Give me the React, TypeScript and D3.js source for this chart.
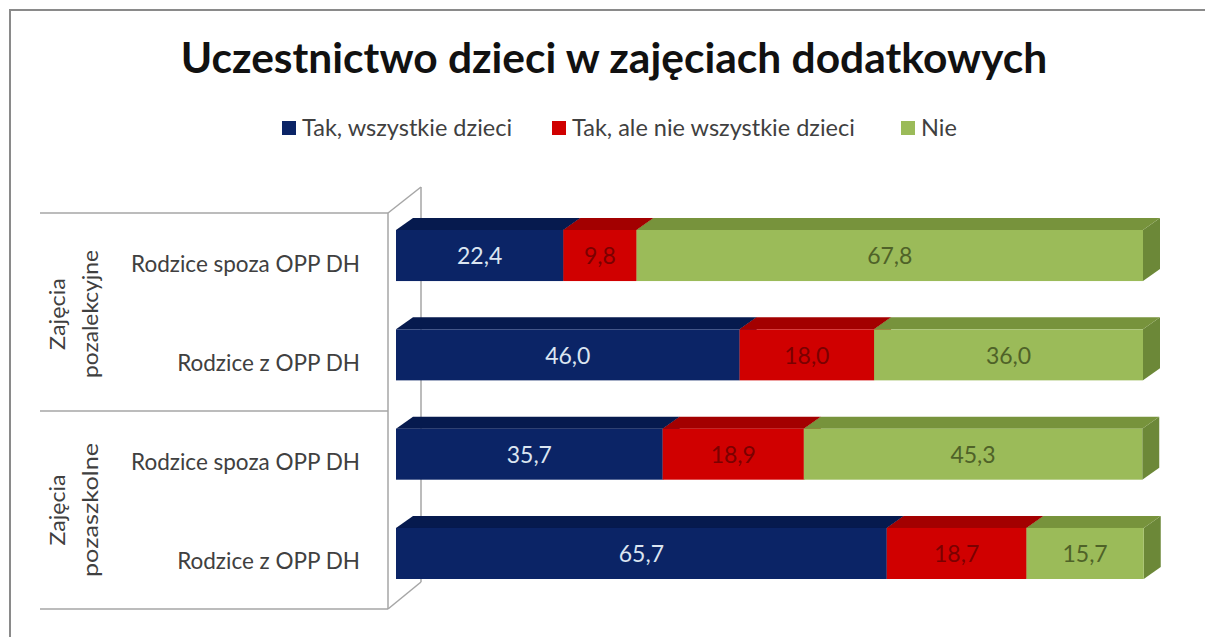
import React from "react";
import * as d3 from "d3";

// Values (percent)
const rows = [
  "Rodzice spoza OPP DH",
  "Rodzice z OPP DH",
  "Rodzice spoza OPP DH",
  "Rodzice z OPP DH",
];
const groups = [
  ["Zajęcia", "pozalekcyjne"],
  ["Zajęcia", "pozaszkolne"],
];
const seriesNames = ["Tak, wszystkie dzieci", "Tak, ale nie wszystkie dzieci", "Nie"];
const takWszystkie = [22.4, 46.0, 35.7, 65.7];
const takNieWszystkie = [9.8, 18.0, 18.9, 18.7];
const nie = [67.8, 36.0, 45.3, 15.7];

const front = ["#0b2466", "#d00000", "#9bbb59"];
const top = ["#061a4e", "#a30000", "#77933c"];
const side = ["#061a4e", "#a30000", "#6c8838"];
const labelColor = ["#dbe5f1", "#7a0000", "#4f6228"];

const FONT = "Lato, 'Open Sans', sans-serif";

export default function App() {
  const W = 1205;
  const H = 637;
  const dx = 17; // bar depth offsets
  const dy = 12;

  const x = d3.scaleLinear().domain([0, 100]).range([396, 1143]);
  const y = d3
    .scaleBand<number>()
    .domain(d3.range(rows.length))
    .range([230, 579])
    .paddingInner(0.486)
    .paddingOuter(0);

  const table = rows.map((r, i) => ({
    row: i,
    a: takWszystkie[i],
    b: takNieWszystkie[i],
    c: nie[i],
  }));
  const stack = d3.stack<any>().keys(["a", "b", "c"])(table);

  const fmt = (v: number) => v.toFixed(1).replace(".", ",");

  // category axis frame
  const frameL = 40;
  const frameR = 388;
  const frameTop = 213;
  const frameBot = 609;
  const wallX = 421;
  const frameMid = (frameTop + frameBot) / 2;

  const legendItems = [
    { x: 282, label: seriesNames[0] },
    { x: 552, label: seriesNames[1] },
    { x: 901, label: seriesNames[2] },
  ];

  // group label lengths along the rotated axis
  const groupLen = [
    [72, 128],
    [71, 134],
  ];

  return (
    <svg
      width={W}
      height={H}
      style={{ position: "absolute", left: 0, top: 0, background: "#fff" }}
      fontFamily={FONT}
    >
      <rect x={10} y={10} width={1240} height={700} fill="none" stroke="#8a8a8a" strokeWidth={2} />

      <text x={614} y={73} textAnchor="middle" fontSize={42.5} fontWeight="bold" fill="#111">
        Uczestnictwo dzieci w zajęciach dodatkowych
      </text>

      {legendItems.map((d, i) => (
        <g key={i}>
          <rect x={d.x} y={121} width={14} height={14} fill={front[i]} />
          <text x={d.x + 20} y={136} fontSize={23.5} fill="#404040">
            {d.label}
          </text>
        </g>
      ))}

      {/* axis wall */}
      <g stroke="#a6a6a6" strokeWidth={1.5} fill="none">
        <line x1={frameL} x2={frameR} y1={frameTop} y2={frameTop} />
        <line x1={frameL} x2={frameR} y1={frameMid} y2={frameMid} />
        <line x1={frameL} x2={frameR} y1={frameBot} y2={frameBot} />
        <line x1={frameR} x2={frameR} y1={frameTop} y2={frameBot} />
        <line x1={frameR} x2={wallX} y1={frameTop} y2={frameTop - 26} />
        <line x1={frameR} x2={wallX} y1={frameBot} y2={frameBot - 27} />
        <line x1={wallX} x2={wallX} y1={frameTop - 26} y2={frameBot - 27} />
      </g>

      {groups.map((g, gi) => {
        const cy = gi === 0 ? (frameTop + frameMid) / 2 + 2 : (frameMid + frameBot) / 2;
        return (
          <text
            key={gi}
            transform={`translate(${65},${cy}) rotate(-90)`}
            textAnchor="middle"
            fontSize={22}
            fill="#404040"
          >
            <tspan x={0} y={0} textLength={groupLen[gi][0]} lengthAdjust="spacingAndGlyphs">
              {g[0]}
            </tspan>
            <tspan x={0} y={33} textLength={groupLen[gi][1]} lengthAdjust="spacingAndGlyphs">
              {g[1]}
            </tspan>
          </text>
        );
      })}

      {rows.map((r, i) => (
        <text
          key={i}
          x={360}
          y={y(i)! + y.bandwidth() / 2 + 16}
          textAnchor="end"
          fontSize={22.5}
          fill="#404040"
        >
          {r}
        </text>
      ))}

      {table.map((row, i) => {
        const y0 = y(i)!;
        const y1 = y0 + y.bandwidth();
        return (
          <g key={i}>
            {stack.map((s, k) => {
              const x0 = x(s[i][0]);
              const x1 = x(s[i][1]);
              return (
                <g key={k}>
                  <polygon
                    points={`${x1},${y0} ${x1 + dx},${y0 - dy} ${x1 + dx},${y1 - dy} ${x1},${y1}`}
                    fill={side[k]}
                  />
                  <polygon
                    points={`${x0},${y0} ${x0 + dx},${y0 - dy} ${x1 + dx},${y0 - dy} ${x1},${y0}`}
                    fill={top[k]}
                  />
                  <rect x={x0} y={y0} width={x1 - x0} height={y1 - y0} fill={front[k]} />
                  <text
                    x={(x0 + x1) / 2}
                    y={(y0 + y1) / 2 + 3}
                    textAnchor="middle"
                    dominantBaseline="middle"
                    fontSize={23}
                    fill={labelColor[k]}
                  >
                    {fmt(s[i][1] - s[i][0])}
                  </text>
                </g>
              );
            })}
          </g>
        );
      })}
    </svg>
  );
}
